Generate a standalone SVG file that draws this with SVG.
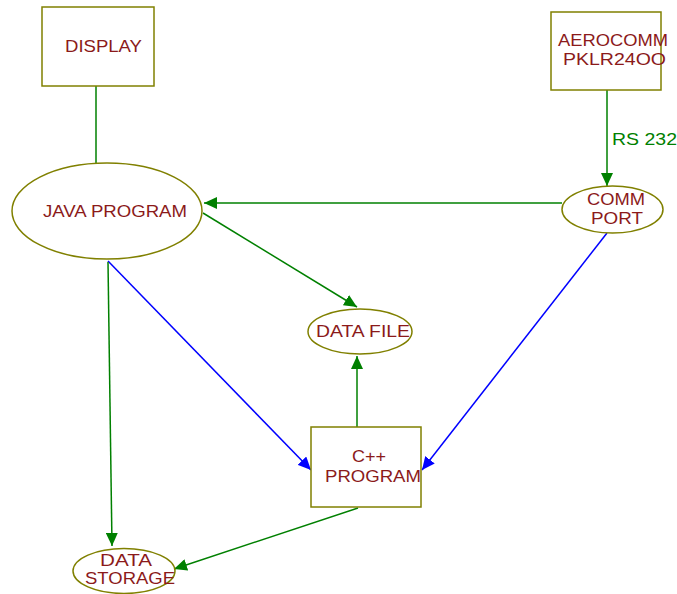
<svg xmlns="http://www.w3.org/2000/svg" width="677" height="594" viewBox="0 0 677 594">
  <style>
    .node { fill: #ffffff; stroke: #808000; stroke-width: 1.5; }
    .label { font-family: "Liberation Sans", Arial, sans-serif; font-size: 16.5px; fill: #8b1a1a; }
    .edge-g { stroke: #008000; stroke-width: 1.5; fill: none; }
    .edge-b { stroke: #0000ff; stroke-width: 1.5; fill: none; }
    .edge-label { font-family: "Liberation Sans", Arial, sans-serif; font-size: 16.5px; fill: #008000; }
  </style>
  <defs>
    <marker id="arrow-g" markerUnits="userSpaceOnUse" markerWidth="14" markerHeight="12" viewBox="0 0 14 12" refX="13" refY="6" orient="auto">
      <path d="M0,0 L13,6 L0,12 Z" fill="#008000"/>
    </marker>
    <marker id="arrow-b" markerUnits="userSpaceOnUse" markerWidth="14" markerHeight="12" viewBox="0 0 14 12" refX="13" refY="6" orient="auto">
      <path d="M0,0 L13,6 L0,12 Z" fill="#0000ff"/>
    </marker>
  </defs>

  <rect width="677" height="594" fill="#ffffff"/>

  <g id="connectors">
    <line class="edge-g" x1="96" y1="86" x2="96" y2="163"/>
    <line class="edge-g" x1="607" y1="90" x2="607" y2="186" marker-end="url(#arrow-g)"/>
    <line class="edge-g" x1="562" y1="203" x2="204" y2="203" marker-end="url(#arrow-g)"/>
    <line class="edge-g" x1="203" y1="213" x2="357" y2="307" marker-end="url(#arrow-g)"/>
    <line class="edge-g" x1="357" y1="427" x2="357" y2="356" marker-end="url(#arrow-g)"/>
    <line class="edge-b" x1="108" y1="261" x2="311" y2="470" marker-end="url(#arrow-b)"/>
    <line class="edge-b" x1="607" y1="233" x2="422" y2="470" marker-end="url(#arrow-b)"/>
    <line class="edge-g" x1="108" y1="262" x2="112" y2="546" marker-end="url(#arrow-g)"/>
    <line class="edge-g" x1="358" y1="508" x2="174" y2="569" marker-end="url(#arrow-g)"/>
    <text class="edge-label" x="612" y="145" textLength="65" lengthAdjust="spacingAndGlyphs">RS 232</text>
  </g>

  <g id="display">
    <rect class="node" x="42" y="7" width="112" height="79"/>
    <text class="label" x="65" y="52" textLength="77" lengthAdjust="spacingAndGlyphs">DISPLAY</text>
  </g>

  <g id="java-program">
    <ellipse class="node" cx="107" cy="211" rx="95" ry="48"/>
    <text class="label" x="43" y="217" textLength="144" lengthAdjust="spacingAndGlyphs">JAVA PROGRAM</text>
  </g>

  <g id="aerocomm">
    <rect class="node" x="551" y="12" width="110" height="78"/>
    <text class="label" x="558" y="46" textLength="110" lengthAdjust="spacingAndGlyphs">AEROCOMM</text>
    <text class="label" x="563" y="65" textLength="103" lengthAdjust="spacingAndGlyphs">PKLR24OO</text>
  </g>

  <g id="comm-port">
    <ellipse class="node" cx="612.5" cy="209.5" rx="50.5" ry="23.5"/>
    <text class="label" x="587" y="205" textLength="58" lengthAdjust="spacingAndGlyphs">COMM</text>
    <text class="label" x="591" y="224" textLength="52" lengthAdjust="spacingAndGlyphs">PORT</text>
  </g>

  <g id="data-file">
    <ellipse class="node" cx="360" cy="331.5" rx="52" ry="22.5"/>
    <text class="label" x="316" y="337" textLength="94" lengthAdjust="spacingAndGlyphs">DATA FILE</text>
  </g>

  <g id="cpp-program">
    <rect class="node" x="311" y="427" width="110" height="80"/>
    <text class="label" x="352" y="462" textLength="34" lengthAdjust="spacingAndGlyphs">C++</text>
    <text class="label" x="325" y="482" textLength="96" lengthAdjust="spacingAndGlyphs">PROGRAM</text>
  </g>

  <g id="data-storage">
    <ellipse class="node" cx="124" cy="571" rx="51" ry="22.5"/>
    <text class="label" x="100" y="566" textLength="52" lengthAdjust="spacingAndGlyphs">DATA</text>
    <text class="label" x="85" y="584" textLength="90" lengthAdjust="spacingAndGlyphs">STORAGE</text>
  </g>
</svg>
